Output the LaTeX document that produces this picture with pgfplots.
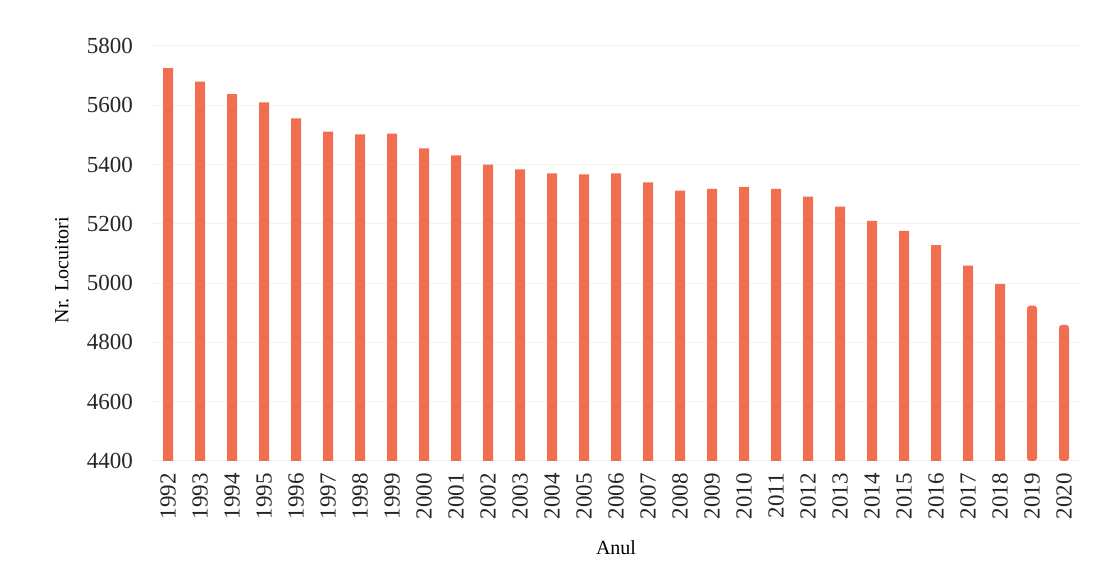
\documentclass[border=0pt]{standalone}
\usepackage{fontspec}
\setmainfont{Liberation Serif}
\usepackage{pgfplots}
\pgfplotsset{compat=1.18}
\definecolor{barc}{HTML}{F26E50}
\begin{document}
\begin{tikzpicture}[x=1pt,y=1pt]
\path[use as bounding box] (0,0) rectangle (548,291);
\begin{axis}[
  at={(76pt,60.5pt)}, anchor=south west,
  scale only axis, width=464pt, height=207.5pt,
  xmin=-0.5, xmax=28.5, ymin=4400, ymax=5800,
  ytick={4400,4600,...,5800},
  xtick={0,...,28},
  xticklabels={1992,1993,1994,1995,1996,1997,1998,1999,2000,2001,2002,2003,2004,2005,2006,2007,2008,2009,2010,2011,2012,2013,2014,2015,2016,2017,2018,2019,2020},
  axis line style={draw=none},
  major tick length=0pt,
  ymajorgrids, grid style={black!5, line width=0.5pt},
  /pgf/number format/assume math mode=true,
  /pgf/number format/1000 sep={},
  tick label style={font=\fontsize{11.5}{13}\selectfont, text=black!85},
  xticklabel style={rotate=90, anchor=east},
  xticklabel shift=2.5pt,
  yticklabel shift=6pt,
  xlabel={Anul}, ylabel={Nr. Locuitori},
  label style={font=\fontsize{11}{13}\selectfont, text=black!85},
  every axis x label/.style={at={(axis description cs:0.5,-0.21)}, anchor=center},
  every axis y label/.style={at={(axis description cs:-0.097,0.46)}, anchor=center, rotate=90},
  ybar, bar width=5pt, bar shift=0pt,
]
\addplot[draw=none, fill=barc] coordinates {
(0,5725) (1,5680) (2,5638) (3,5610) (4,5556) (5,5511) (6,5502) (7,5504)
(8,5455) (9,5431) (10,5400) (11,5384) (12,5370) (13,5367) (14,5370)
(15,5340) (16,5312) (17,5318) (18,5325) (19,5318) (20,5292) (21,5258)
(22,5210) (23,5176) (24,5128) (25,5059) (26,4997)
};
\addplot[draw=none, fill=barc, rounded corners=1.5pt] coordinates {
(27,4924) (28,4859)
};
\end{axis}
\end{tikzpicture}
\end{document}
